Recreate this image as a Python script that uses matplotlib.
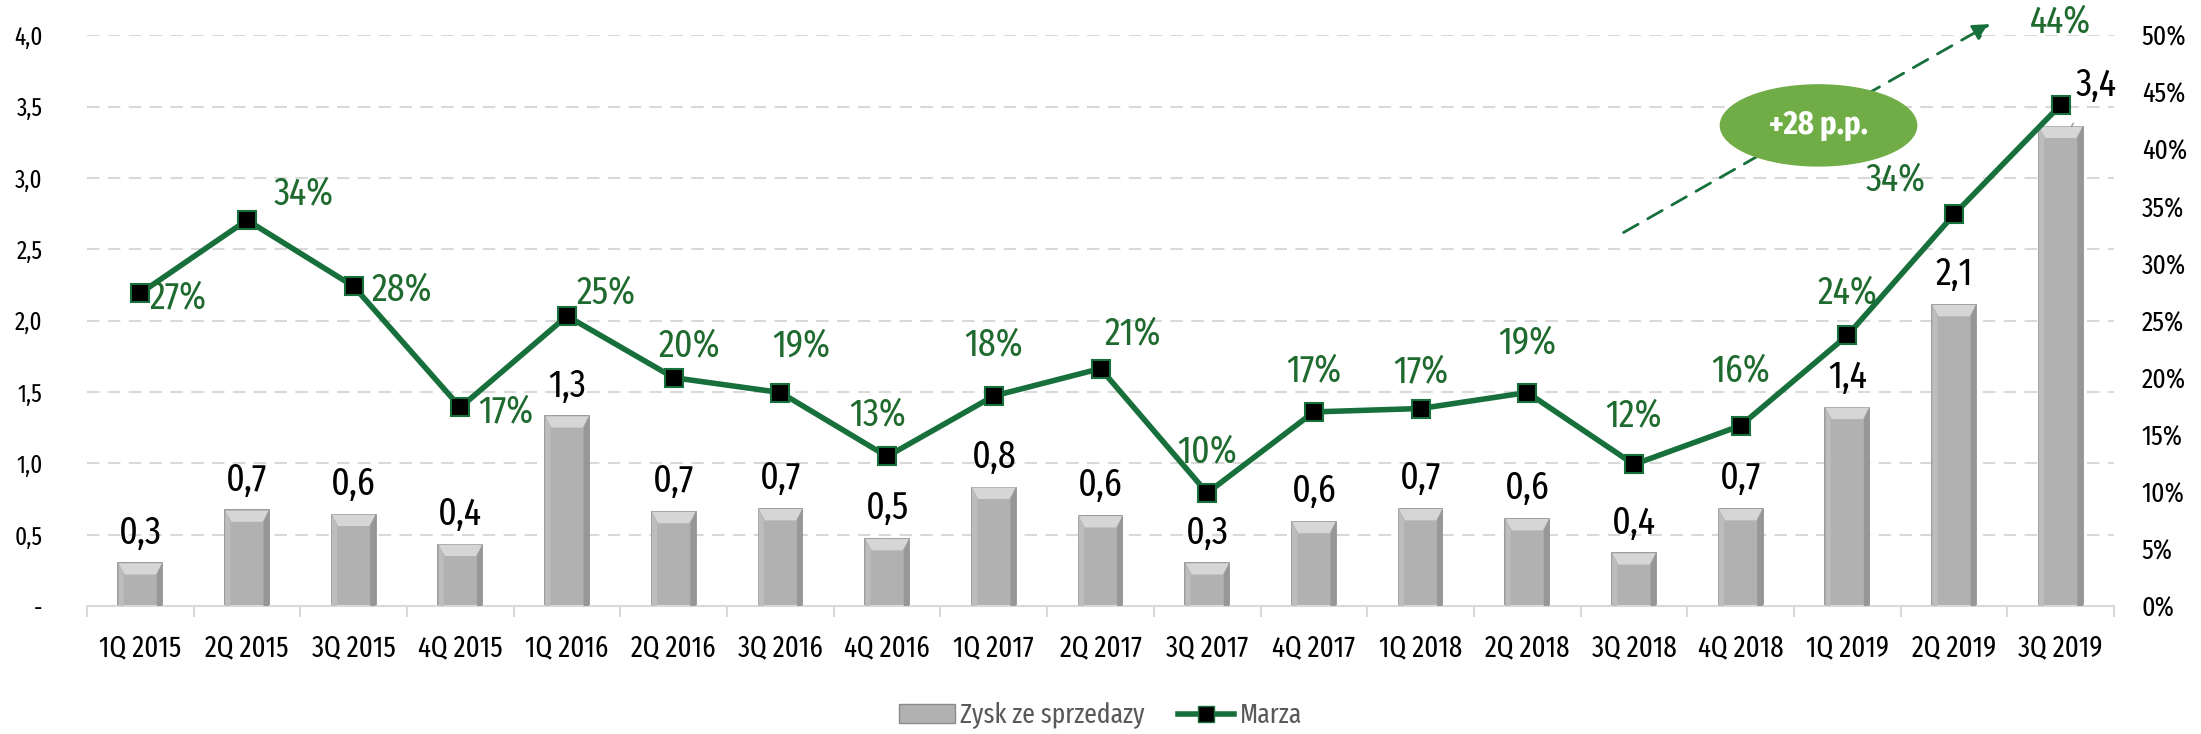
import numpy as np
import matplotlib
matplotlib.use("Agg")
import matplotlib.pyplot as plt
from matplotlib import font_manager
from matplotlib.patches import Ellipse, Rectangle
from matplotlib.lines import Line2D

# data
quarters = ["1Q 2015", "2Q 2015", "3Q 2015", "4Q 2015", "1Q 2016", "2Q 2016",
            "3Q 2016", "4Q 2016", "1Q 2017", "2Q 2017", "3Q 2017", "4Q 2017",
            "1Q 2018", "2Q 2018", "3Q 2018", "4Q 2018", "1Q 2019", "2Q 2019",
            "3Q 2019"]
profit = [0.30, 0.67, 0.64, 0.43, 1.33, 0.66, 0.68, 0.47, 0.83, 0.63, 0.30,
          0.59, 0.68, 0.61, 0.37, 0.68, 1.39, 2.11, 3.36]
profit_labels = ["0,3", "0,7", "0,6", "0,4", "1,3", "0,7", "0,7", "0,5", "0,8",
                 "0,6", "0,3", "0,6", "0,7", "0,6", "0,4", "0,7", "1,4", "2,1",
                 "3,4"]
margin = [27.4, 33.8, 28.0, 17.4, 25.4, 20.0, 18.7, 13.1, 18.4, 20.8, 9.9,
          17.0, 17.3, 18.7, 12.4, 15.8, 23.7, 34.3, 43.9]
margin_labels = ["27%", "34%", "28%", "17%", "25%", "20%", "19%", "13%", "18%",
                 "21%", "10%", "17%", "17%", "19%", "12%", "16%", "24%", "34%",
                 "44%"]
left_ticks = [0, 0.5, 1.0, 1.5, 2.0, 2.5, 3.0, 3.5, 4.0]
left_tick_labels = ["-", "0,5", "1,0", "1,5", "2,0", "2,5", "3,0", "3,5", "4,0"]
right_ticks = [0, 5, 10, 15, 20, 25, 30, 35, 40, 45, 50]
growth_label = "+28 p.p."

# label offsets (points) for the margin labels
margin_off = [(27, -3), (41, 19), (35, -2), (33, -3), (28, 17), (11, 23),
              (15, 34), (-7, 30), (0, 37), (23, 25), (0, 30), (0, 30),
              (0, 27), (0, 36), (0, 35), (0, 40), (0, 31), (-42, 25), (0, 60)]

# pick a narrow font (static weights) close to the original's condensed face
installed = {f.name for f in font_manager.fontManager.ttflist}
wanted = ["Fira Sans Extra Condensed", "Pragati Narrow", "Fira Sans Condensed",
          "Barlow Condensed"]
FONT = [f for f in wanted if f in installed][:1] + ["DejaVu Sans"]
plt.rcParams["font.family"] = FONT

GREEN = "#17703b"
LABEL_GREEN = "#1f6a2e"
BAR = "#b1b1b1"

fig = plt.figure(figsize=(22.01, 7.34), dpi=100)
ax = fig.add_axes([0.0395, 0.1744, 0.921, 0.7776])
ax2 = ax.twinx()

x = np.arange(len(quarters))
bw = 0.41

# bars with a simple bevel look
ax.bar(x, profit, width=bw, color=BAR, edgecolor="#8a8a8a",
       linewidth=1.2, zorder=2)
for xi, h in zip(x, profit):
    ax.fill([xi - bw / 2, xi + bw / 2, xi + bw / 2 - 0.06, xi - bw / 2 + 0.06],
            [h, h, h - 0.08, h - 0.08], color="#d6d6d6", zorder=3, lw=0)
    ax.fill([xi - bw / 2, xi - bw / 2 + 0.05, xi - bw / 2 + 0.05, xi - bw / 2],
            [0, 0, h - 0.08, h], color="#bdbdbd", zorder=3, lw=0)
    ax.fill([xi + bw / 2, xi + bw / 2 - 0.05, xi + bw / 2 - 0.05, xi + bw / 2],
            [0, 0, h - 0.08, h], color="#979797", zorder=3, lw=0)

for xi, h, lab in zip(x[:-1], profit[:-1], profit_labels[:-1]):
    ax.annotate(lab, (xi, h), xytext=(0, 22), textcoords="offset points",
                ha="center", va="center", fontsize=28, color="black", zorder=6)
ax.annotate(profit_labels[-1], (x[-1] + 0.1, profit[-1]), xytext=(x[-1] + 0.33, 3.65),
            ha="center", va="center", fontsize=28, color="black", zorder=6,
            arrowprops=dict(arrowstyle="-", color="#a6a6a6", lw=1.2,
                            shrinkA=14, shrinkB=0))

ax.set_ylim(0, 4.0)
ax.set_xlim(-0.5, len(quarters) - 0.5)
ax.set_yticks(left_ticks)
ax.set_yticklabels(left_tick_labels)
ax.yaxis.grid(True, linestyle=(0, (6, 4)), color="#d9d9d9", linewidth=1.5)
ax.set_axisbelow(True)
ax.set_xticks(x)
ax.set_xticklabels(quarters)
ax.set_xticks(np.arange(-0.5, len(quarters), 1), minor=True)
ax.tick_params(axis="x", which="major", length=0, pad=20, labelsize=21)
ax.tick_params(axis="x", which="minor", length=8, color="#d9d9d9", width=1.5)
ax.tick_params(axis="y", length=0, pad=32, labelsize=18)
for s in ["top", "left", "right"]:
    ax.spines[s].set_visible(False)
ax.spines["bottom"].set_color("#d9d9d9")
ax.spines["bottom"].set_linewidth(1.5)

# margin line on the right axis
ax2.plot(x, margin, color=GREEN, lw=4, marker="s", markersize=12.5,
         markerfacecolor="black", markeredgecolor=GREEN, markeredgewidth=1.5,
         zorder=5)
for xi, m, lab, off in zip(x, margin, margin_labels, margin_off):
    ax2.annotate(lab, (xi, m), xytext=off, textcoords="offset points",
                 ha="center", va="center", fontsize=28, color=LABEL_GREEN,
                 zorder=6, annotation_clip=False)
ax2.set_ylim(0, 50)
ax2.set_yticks(right_ticks)
ax2.set_yticklabels([f"{t}%" for t in right_ticks])
ax2.tick_params(axis="y", length=0, pad=20, labelsize=20)
for s in ["top", "left", "right", "bottom"]:
    ax2.spines[s].set_visible(False)

# growth arrow and ellipse
ax2.annotate("", xy=(17.36, 51.1), xytext=(13.88, 32.6),
             arrowprops=dict(arrowstyle="-|>,head_length=1.0,head_width=0.5",
                             color=GREEN, lw=2, linestyle=(0, (6, 4))),
             annotation_clip=False, zorder=4)
ell = Ellipse((15.73, 42.1), 1.84, 7.1, color="#70ad47", zorder=7,
              clip_on=False)
ax2.add_patch(ell)
ax2.text(15.73, 42.1, growth_label, ha="center", va="center", fontsize=24,
         color="white", fontweight="bold", zorder=8)

# legend
bar_handle = Rectangle((0, 0), 1, 1, facecolor=BAR, edgecolor="#8a8a8a")
line_handle = Line2D([], [], color=GREEN, lw=4, marker="s", markersize=12,
                     markerfacecolor="black", markeredgecolor=GREEN)
leg = fig.legend([bar_handle, line_handle], ["Zysk ze sprzedazy", "Marza"],
                 loc="center", bbox_to_anchor=(0.5, 0.025), ncol=2,
                 frameon=False, fontsize=20, handlelength=2.0,
                 handletextpad=0.2, columnspacing=1.2)
for t in leg.get_texts():
    t.set_color("#595959")

fig.savefig("out.png", dpi=100)
